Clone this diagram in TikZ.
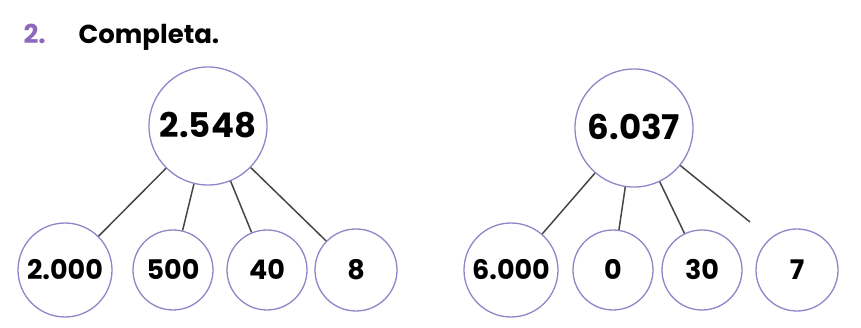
\documentclass[tikz,border=0pt]{standalone}
\usepackage{fontspec}
\setmainfont{Poppins}
\definecolor{ringlila}{RGB}{150,130,200}
\definecolor{numlila}{RGB}{140,105,190}
\definecolor{edgegray}{RGB}{70,70,70}
\begin{document}
\begin{tikzpicture}[x=1pt,y=-1pt,
	ring/.style={circle, draw=ringlila, line width=1.3pt, fill=white, inner sep=0pt, text height=19pt, text depth=0pt, font=\fontsize{27}{27}\selectfont\bfseries},
	bigring/.style={ring, minimum size=118pt, text height=24pt, font=\fontsize{34}{34}\selectfont\bfseries},
	edge/.style={draw=edgegray, line width=1.5pt}]
	\useasboundingbox (0,0) rectangle (861,328);

	\node[anchor=base west, text=numlila, font=\fontsize{26}{26}\selectfont\bfseries] (nr) at (20,44) {2.};
	\node[anchor=base west, font=\fontsize{26}{26}\selectfont\bfseries] (titel) at (75,44) {Completa.};

	\node[bigring] (zahlA) at (208,126) {2.548};
	\node[ring, minimum size=94pt] (a1) at (65,270) {2.000};
	\node[ring, minimum size=80pt] (a2) at (173,270) {500};
	\node[ring, minimum size=80pt] (a3) at (267,270) {40};
	\node[ring, minimum size=82pt] (a4) at (356,270) {8};

	\node[bigring] (zahlB) at (634,128) {6.037};
	\node[ring, minimum size=94pt] (b1) at (511,270) {6.000};
	\node[ring, minimum size=80pt] (b2) at (613,270) {0};
	\node[ring, minimum size=80pt] (b3) at (702,270) {30};
	\node[ring, minimum size=82pt] (b4) at (797,270) {7};
	\coordinate (b4frei) at (750,222);

	\draw[edge] (zahlA) -- (a1) (zahlA) -- (a2) (zahlA) -- (a3) (zahlA) -- (a4);
	\draw[edge] (zahlB) -- (b1) (zahlB) -- (b2) (zahlB) -- (b3);
	\draw[edge] (zahlB) -- (b4frei);
\end{tikzpicture}
\end{document}
